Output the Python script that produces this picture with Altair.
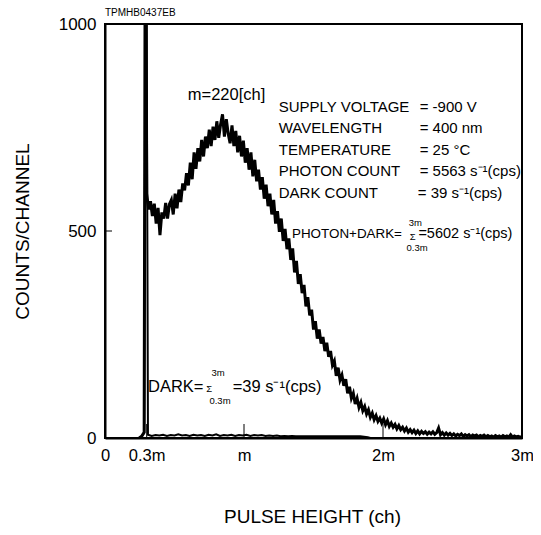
import altair as alt
import pandas as pd

FONT = "Liberation Sans, Arial, Helvetica, sans-serif"

# ---------------- data ----------------
# PHOTON+DARK spectrum: rising foot and 0.3m spike (clipped above 1000)
spike_ch = [54, 58, 62, 64]
spike_cnt = [0, 4, 14, 1500]

# main spectrum, one value every 3 channels from ch 66 to ch 660
main_cnt = [
    590, 552, 572, 536, 566, 518, 556, 490, 545, 530,
    568, 530, 565, 575, 540, 590, 555, 600, 570, 615,
    598, 640, 610, 665, 625, 690, 650, 700, 668, 720,
    680, 728, 700, 745, 705, 752, 720, 765, 725, 758,
    782, 728, 770, 735, 712, 755, 705, 742, 690, 730,
    680, 718, 665, 700, 648, 690, 632, 672, 620, 648,
    600, 630, 578, 612, 560, 590, 540, 575, 518, 548,
    498, 530, 476, 505, 456, 482, 430, 458, 400, 428,
    372, 396, 350, 370, 318, 340, 296, 310, 262, 282,
    240, 262, 228, 244, 210, 230, 196, 210, 176, 186,
    150, 170, 140, 152, 126, 142, 108, 124, 96, 108,
    82, 96, 74, 86, 66, 76, 58, 68, 50, 60,
    44, 54, 40, 48, 36, 46, 32, 42, 28, 36,
    26, 33, 22, 30, 20, 26, 17, 24, 14, 20,
    13, 19, 11, 17, 10, 16, 11, 15, 9, 14,
    10, 15, 9, 13, 24, 8, 13, 7, 12, 7,
    11, 6, 10, 5, 9, 6, 10, 4, 8, 5,
    8, 3, 7, 5, 7, 3, 6, 4, 7, 3,
    6, 3, 5, 2, 6, 3, 5, 2, 6, 3,
    5, 2, 8, 2, 5, 3, 4, 2, 3,
]
main_ch = list(range(66, 661, 3))

# DARK spectrum
dark_ch = [54, 58, 62, 65, 68, 74, 80, 86, 92, 98, 104, 110, 116, 122, 128,
           134, 140, 146, 152, 158, 164, 170, 176, 182, 188, 194, 200, 206,
           212, 218, 224, 230, 236, 242, 248, 254, 260, 266, 272, 278, 284,
           290, 296, 302, 308, 314, 320, 326, 332, 338, 344, 350, 356, 362,
           368, 374, 380, 386, 392, 398, 404, 410, 416, 420]
dark_cnt = [0, 4, 12, 1500, 8, 5, 7, 6, 8, 5, 7, 6, 9, 6, 7,
            5, 8, 6, 7, 5, 8, 6, 9, 5, 7, 6, 8, 5,
            7, 6, 8, 5, 7, 6, 7, 5, 6, 5, 6, 4, 5,
            4, 5, 4, 4, 4, 4, 4, 4, 4, 4, 4, 4, 4,
            4, 4, 4, 4, 4, 4, 4, 3, 2, 0]

# axis ticks (m = 220 ch)
x_tick_vals = [0, 66, 220, 440, 660]
x_tick_text = ["0", "0.3m", "m", "2m", "3m"]
y_tick_vals = [0, 500, 1000]
inner_x_ticks = [66, 220, 440]
inner_y_ticks = [500]

# annotation text
block_labels = ["SUPPLY VOLTAGE", "WAVELENGTH", "TEMPERATURE", "PHOTON COUNT", "DARK COUNT"]
block_values = ["= -900 V", "= 400 nm", "= 25 \u00b0C", "= 5563 s\u207b\u00b9(cps)", "= 39 s\u207b\u00b9(cps)"]
block_cnt = [800, 749, 696, 645, 592]
block_value_ch = [498, 498, 498, 498, 495]

# ---------------- build tables ----------------
main_df = pd.DataFrame({"ch": spike_ch + main_ch[:len(main_cnt)],
                        "cnt": spike_cnt + main_cnt})
dark_df = pd.DataFrame({"ch": dark_ch, "cnt": dark_cnt})

label_expr = "{" + ",".join(f"'{v}':'{t}'" for v, t in zip(x_tick_vals, x_tick_text)) + "}[datum.value]"

xs = alt.Scale(domain=[0, 660], nice=False, zero=False)
ys = alt.Scale(domain=[0, 1000], nice=False, zero=False)

x_axis = alt.Axis(values=x_tick_vals, labelExpr=label_expr, ticks=False, grid=False,
                  domainColor="black", domainWidth=2, labelFont=FONT, labelFontSize=16.5,
                  labelColor="black", labelPadding=9, labelFlush=False, labelOverlap=False,
                  title="PULSE HEIGHT (ch)", titleFont=FONT, titleFontSize=19,
                  titleFontWeight="normal", titleColor="black", titleX=207, titleY=78,
                  titleAlign="center", titleBaseline="middle")
y_axis = alt.Axis(values=y_tick_vals, format="d", ticks=False, grid=False, domainColor="black",
                  domainWidth=2, labelFont=FONT, labelFontSize=17, labelColor="black",
                  labelPadding=9, labelFlush=False, labelOverlap=False,
                  title="COUNTS/CHANNEL", titleFont=FONT, titleFontSize=19,
                  titleFontWeight="normal", titleColor="black", titleX=-83, titleY=207,
                  titleAlign="center", titleBaseline="middle", titleAngle=270)

X = alt.X("ch:Q", scale=xs, axis=x_axis)
Y = alt.Y("cnt:Q", scale=ys, axis=y_axis)

main_line = alt.Chart(main_df).mark_line(color="black", strokeWidth=3, clip=True).encode(
    x=X, y=Y, order="ch:Q",
)
dark_line = alt.Chart(dark_df).mark_line(color="black", strokeWidth=2, clip=True).encode(
    x=X, y=Y, order="ch:Q",
)

xt = alt.Chart(pd.DataFrame({"ch": inner_x_ticks})).mark_rule(color="black", strokeWidth=1).encode(
    x=X, y=alt.value(414), y2=alt.value(400),
)
yt = alt.Chart(pd.DataFrame({"cnt": inner_y_ticks})).mark_rule(color="black", strokeWidth=1).encode(
    y=Y, x=alt.value(0), x2=alt.value(7),
)


def txt(rows, size, align="left"):
    df = pd.DataFrame(rows, columns=["ch", "cnt", "t"])
    return alt.Chart(df).mark_text(font=FONT, fontSize=size, align=align,
                                   baseline="middle", color="black").encode(
        x=X, y=Y, text="t:N",
    )


block_left = txt([(275, c, l) for c, l in zip(block_cnt, block_labels)], 15)
block_right = txt([(x, c, v) for x, c, v in zip(block_value_ch, block_cnt, block_values)], 15)
m_label = txt([(131, 828, "m=220[ch]")], 16.5)
pd_left = txt([(296, 493, "PHOTON+DARK=")], 13.4)
pd_right = txt([(496, 493, "=5602 s\u207b\u00b9(cps)")], 14.5)
pd_sigma = txt([(487, 486, "\u03a3")], 9.5, "center")
pd_lims = txt([(491, 520, "3m"), (494, 459, "0.3m")], 9.5, "center")
dk_main = txt([(68, 124, "DARK="), (202, 124, "=39 s\u207b\u00b9(cps)")], 16.5)
dk_sigma = txt([(165, 119, "\u03a3")], 9.5, "center")
dk_lims = txt([(179, 157, "3m"), (182, 89, "0.3m")], 9.5, "center")

code = alt.Chart(pd.DataFrame({"t": ["TPMHB0437EB"]})).mark_text(
    font=FONT, fontSize=10, align="left", baseline="middle", color="black").encode(
    x=alt.value(0), y=alt.value(-11.5), text="t:N")

chart = alt.layer(
    main_line, dark_line, xt, yt, block_left, block_right, m_label,
    pd_left, pd_right, pd_sigma, pd_lims, dk_main, dk_sigma, dk_lims, code,
).properties(
    width=417, height=414,
    autosize=alt.AutoSizeParams(type="none"),
    padding={"left": 97, "top": 16, "right": 11, "bottom": 91},
).configure(
    background="white",
    view=alt.ViewConfig(stroke="black", strokeWidth=2),
)

chart.save("out.html", embed_options={"renderer": "svg", "actions": False})
